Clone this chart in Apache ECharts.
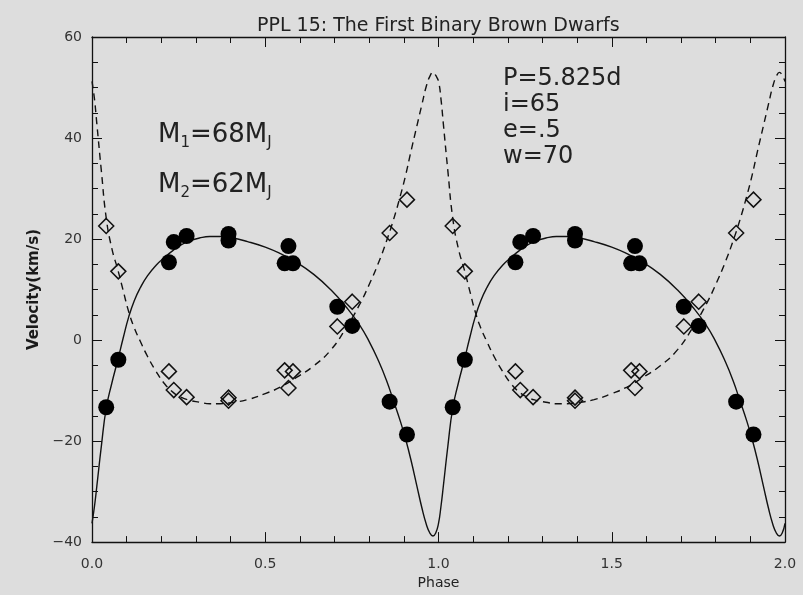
<!DOCTYPE html>
<html>
<head>
<meta charset="utf-8">
<title>PPL 15</title>
<script src="https://cdn.jsdelivr.net/npm/echarts@6/dist/echarts.min.js"></script>
<style>
  html, body { margin: 0; padding: 0; background: #dddddd; }
  #main { width: 803px; height: 595px; }
</style>
</head>
<body>
<div id="main"></div>
<script>
// measured points, folded in phase (one cycle, drawn twice)
const obsPhase = [0.041, 0.076, 0.222, 0.236, 0.273, 0.394, 0.394, 0.556, 0.567, 0.580, 0.708, 0.751, 0.859, 0.909];
const obsPrimary = [-13.3, -3.9, 15.4, 19.4, 20.6, 21.0, 19.7, 15.2, 18.6, 15.2, 6.6, 2.8, -12.2, -18.7];
const obsSecondary = [22.6, 13.6, -6.2, -9.9, -11.3, -11.4, -12.0, -6.0, -9.5, -6.2, 2.7, 7.6, 21.2, 27.8];

// orbit curves
const curvePhase = [0, 0.007, 0.014, 0.027, 0.041, 0.057, 0.075, 0.090, 0.106, 0.122,
  0.139, 0.160, 0.185, 0.210, 0.235, 0.256, 0.280, 0.310, 0.340, 0.370,
  0.400, 0.449, 0.500, 0.544, 0.590, 0.640, 0.690, 0.734, 0.772, 0.800,
  0.828, 0.850, 0.870, 0.890, 0.905, 0.920, 0.938, 0.952, 0.965, 0.975,
  0.984, 0.992, 1.0];
const curvePrimary = [-36.3, -33.0, -28.9, -21.0, -13.5, -8.6, -3.8, 0.4, 4.6, 7.8,
  10.3, 12.7, 14.8, 16.4, 17.8, 18.8, 19.6, 20.2, 20.5, 20.5,
  20.3, 19.5, 18.4, 17.1, 15.4, 13.0, 9.9, 6.5, 3.0, -0.3,
  -4.3, -8.0, -12.0, -16.1, -19.6, -23.6, -29.0, -33.2, -36.5, -38.2,
  -38.8, -38.2, -36.3];
const curveSecondary = [51.2, 47.8, 42.8, 33.5, 24.2, 18.2, 13.8, 9.8, 5.6, 2.4,
  -0.2, -3.2, -6.2, -8.7, -10.4, -11.3, -11.9, -12.3, -12.6, -12.6,
  -12.4, -11.8, -10.6, -9.3, -7.4, -5.1, -1.9, 2.5, 7.0, 11.0,
  15.5, 19.6, 23.8, 28.6, 32.6, 37.2, 42.5, 46.6, 50.3, 52.2,
  53.0, 52.4, 51.2];

const cycles = 2;
const titleText = 'PPL 15: The First Binary Brown Dwarfs';
const orbitLines = ['P=5.825d', 'i=65', 'e=.5', 'w=70'];

// repeat a folded cycle over the plotted phases
function unfold(ph, vals, closed) {
  const out = [];
  for (let c = 0; c < cycles; c++) {
    for (let i = 0; i < ph.length; i++) {
      if (closed && c > 0 && i === 0) continue;
      out.push([ph[i] + c, vals[i]]);
    }
  }
  return out;
}

const font = 'DejaVu Sans';
const ink = '#111';

// frame axes: ticks inward, no zero crossing
function boxAxis(extra, minorSplit) {
  return Object.assign({
    axisLine: { show: true, onZero: false, lineStyle: { color: ink, width: 1.3 } },
    axisTick: { show: true, inside: true, length: 10, lineStyle: { color: ink, width: 1 } },
    minorTick: { show: true, splitNumber: minorSplit, length: 6, lineStyle: { color: ink, width: 1 } },
    splitLine: { show: false }
  }, extra);
}

const myChart = echarts.init(document.getElementById('main'));

const mText = {
  m: { fontFamily: font, fontSize: 26, lineHeight: 32, fill: '#222' },
  s: { fontFamily: font, fontSize: 15, lineHeight: 12, verticalAlign: 'bottom', fill: '#222' }
};

const option = {
  backgroundColor: '#dddddd',
  animation: false,
  title: {
    text: titleText,
    left: 252,
    top: 12,
    textStyle: { fontFamily: font, fontSize: 19, fontWeight: 'normal', color: '#222' }
  },
  grid: { left: 92, right: 18, top: 37, bottom: 49 },
  xAxis: [
    boxAxis({
      type: 'value', min: 0, max: 2, interval: 0.5, position: 'bottom',
      name: 'Phase', nameLocation: 'middle', nameGap: 33,
      nameTextStyle: { fontFamily: font, fontSize: 14, color: '#222' },
      axisLabel: { fontFamily: font, fontSize: 14, color: '#333', margin: 15,
        formatter: v => v.toFixed(1) }
    }, 5),
    boxAxis({
      type: 'value', min: 0, max: 2, interval: 0.5, position: 'top',
      axisLabel: { show: false }
    }, 5)
  ],
  yAxis: [
    boxAxis({
      type: 'value', min: -40, max: 60, interval: 20, position: 'left',
      name: 'Velocity(km/s)', nameLocation: 'middle', nameGap: 34,
      nameTextStyle: { fontFamily: font, fontSize: 15, fontWeight: 'bold', color: '#1a1a1a' },
      axisLabel: { fontFamily: font, fontSize: 14, color: '#333', margin: 10,
        formatter: v => String(v).replace('-', '\u2212') }
    }, 4),
    boxAxis({
      type: 'value', min: -40, max: 60, interval: 20, position: 'right',
      axisLabel: { show: false }
    }, 4)
  ],
  graphic: [
    {
      type: 'text', left: 158, top: 122,
      style: { text: '{m|M}{s|1}{m|=68M}{s|J}', fill: '#222', rich: mText }
    },
    {
      type: 'text', left: 158, top: 172,
      style: { text: '{m|M}{s|2}{m|=62M}{s|J}', fill: '#222', rich: mText }
    },
    {
      type: 'text', left: 503, top: 66,
      style: {
        text: orbitLines.join('\n'),
        fill: '#222',
        font: '24px "DejaVu Sans"',
        lineHeight: 26
      }
    }
  ],
  series: [
    {
      name: 'primary orbit',
      type: 'line',
      data: unfold(curvePhase, curvePrimary, true),
      showSymbol: false,
      smooth: 0.5,
      lineStyle: { color: ink, width: 1.4 },
      z: 2
    },
    {
      name: 'secondary orbit',
      type: 'line',
      data: unfold(curvePhase, curveSecondary, true),
      showSymbol: false,
      smooth: 0.5,
      lineStyle: { color: ink, width: 1.4, type: [7, 5] },
      z: 2
    },
    {
      name: 'primary',
      type: 'scatter',
      data: unfold(obsPhase, obsPrimary, false),
      symbol: 'circle',
      symbolSize: 16,
      itemStyle: { color: '#000', opacity: 1 },
      z: 4
    },
    {
      name: 'secondary',
      type: 'scatter',
      data: unfold(obsPhase, obsSecondary, false),
      symbol: 'diamond',
      symbolSize: [15, 15],
      itemStyle: { color: 'rgba(0,0,0,0)', borderColor: ink, borderWidth: 1.5, opacity: 1 },
      z: 3
    }
  ]
};

myChart.setOption(option);
</script>
</body>
</html>
